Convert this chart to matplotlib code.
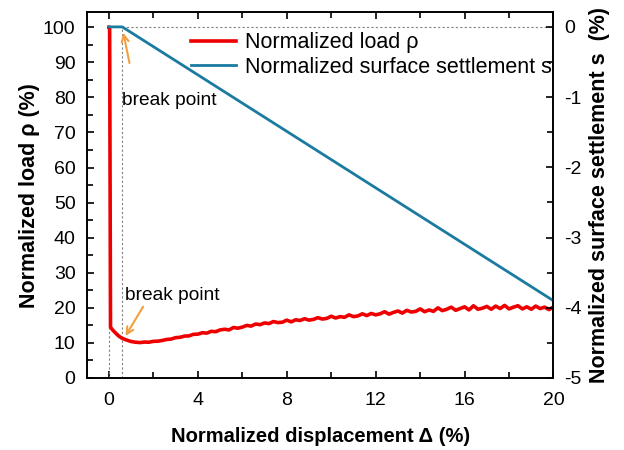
import numpy as np
import matplotlib.pyplot as plt
from matplotlib.ticker import MultipleLocator

plt.rcParams['font.family'] = ['Liberation Sans', 'DejaVu Sans']
plt.rcParams['axes.unicode_minus'] = False

# normalized load curve
load_x = [0, 0.03, 0.07, 0.15, 0.3, 0.45, 0.6, 0.8, 1.0, 1.2, 1.4,
          1.6, 1.8, 2.0, 2.2, 2.4, 2.6, 2.8, 3.0, 3.2, 3.4, 3.6, 3.8,
          4.0, 4.2, 4.4, 4.6, 4.8, 5.0, 5.2, 5.4, 5.6, 5.8,
          6.0, 6.2, 6.4, 6.6, 6.8, 7.0, 7.2, 7.4, 7.6, 7.8,
          8.0, 8.2, 8.4, 8.6, 8.8, 9.0, 9.2, 9.4, 9.6, 9.8,
          10.0, 10.2, 10.4, 10.6, 10.8, 11.0, 11.2, 11.4, 11.6, 11.8,
          12.0, 12.2, 12.4, 12.6, 12.8, 13.0, 13.2, 13.4, 13.6, 13.8,
          14.0, 14.2, 14.4, 14.6, 14.8, 15.0, 15.2, 15.4, 15.6, 15.8,
          16.0, 16.2, 16.4, 16.6, 16.8, 17.0, 17.2, 17.4, 17.6, 17.8,
          18.0, 18.2, 18.4, 18.6, 18.8, 19.0, 19.2, 19.4, 19.6, 19.8, 20.0]
load_y = [100, 100, 14.5, 13.8, 12.8, 11.9, 11.3, 10.8, 10.4, 10.2, 10.1,
          10.25, 10.2, 10.45, 10.5, 10.7, 11.0, 11.1, 11.5, 11.6, 11.95, 12.0, 12.45,
          12.5, 12.9, 12.8, 13.3, 13.2, 13.7, 13.9, 13.7, 14.4, 14.2,
          14.5, 15.0, 14.8, 15.4, 15.2, 15.7, 15.5, 16.1, 15.8, 15.9,
          16.5, 16.0, 16.6, 16.4, 16.9, 16.5, 16.7, 17.2, 16.8, 17.0,
          17.6, 17.1, 17.5, 17.3, 18.0, 17.5, 17.7, 18.3, 17.8, 18.4,
          18.0, 18.3, 18.9, 18.2, 18.7, 19.1, 18.5, 19.3, 18.8, 19.0,
          19.7, 18.9, 19.4, 19.0, 20.0, 19.2, 19.6, 20.2, 19.3, 19.8,
          20.3, 19.4, 20.6, 19.6, 19.9, 20.4, 19.6, 20.5, 19.8, 20.7,
          19.7, 20.2, 20.6, 19.7, 20.3, 19.6, 20.5, 19.8, 20.2, 19.5, 20.3]

# normalized surface settlement
sett_x = [0, 0.6, 20]
sett_y = [0, 0, -3.9]

fig = plt.figure(figsize=(6.24, 4.5), dpi=100)
ax = fig.add_axes([0.139, 0.16, 0.748, 0.813])
ax2 = ax.twinx()

# guide lines
ax.plot([0.6, 20], [100, 100], color='gray', ls=(0, (2, 2)), lw=0.8)
ax.plot([0, 0], [0, 100], color='gray', ls=(0, (2, 2)), lw=0.8)
ax.plot([0.6, 0.6], [0, 100], color='gray', ls=(0, (2, 2)), lw=0.8)

l1, = ax.plot(load_x, load_y, color='#ee0000', lw=2.6, label='Normalized load ρ')
l2, = ax2.plot(sett_x, sett_y, color='#1a7aa0', lw=2.0,
               label='Normalized surface settlement s')

ax.set_xlim(-1.0, 20)
ax.set_ylim(0, 104.3)
ax2.set_ylim(-5, 0.21)

ax.xaxis.set_major_locator(MultipleLocator(4))
ax.xaxis.set_minor_locator(MultipleLocator(2))
ax.yaxis.set_major_locator(MultipleLocator(10))
ax.yaxis.set_minor_locator(MultipleLocator(5))
ax2.yaxis.set_major_locator(MultipleLocator(1))
ax2.yaxis.set_minor_locator(MultipleLocator(0.5))

ax.tick_params(which='both', direction='in', top=True, labelsize=14, width=1.2)
ax.tick_params(which='major', length=5)
ax.tick_params(which='minor', length=4)
ax.tick_params(axis='x', pad=10)
ax.tick_params(axis='y', pad=8)
ax2.tick_params(which='both', direction='in', labelsize=14, width=1.2, pad=8)
ax2.tick_params(which='major', length=5)
ax2.tick_params(which='minor', length=4)
for a in (ax, ax2):
    for s in a.spines.values():
        s.set_linewidth(1.2)

ax.set_xlabel('Normalized displacement Δ (%)', fontsize=14.5, fontweight='bold', labelpad=13)
ax.set_ylabel('Normalized load ρ (%)', fontsize=15.5, fontweight='bold', labelpad=2)
ax2.set_ylabel('Normalized surface settlement s  (%)', fontsize=15.5, fontweight='bold', labelpad=5)

arrow = dict(arrowstyle='->,head_length=0.5,head_width=0.25', color='#f0a040', lw=1.5)
ax.annotate('', xy=(0.62, 99.2), xytext=(0.95, 89), arrowprops=arrow)
ax.text(0.58, 79, 'break point', fontsize=13.8, va='center', ha='left')
ax.annotate('', xy=(0.68, 11.3), xytext=(1.6, 21), arrowprops=arrow)
ax.text(0.72, 23.4, 'break point', fontsize=13.8, va='center', ha='left')

ax.legend(handles=[l1, l2], loc='upper left', bbox_to_anchor=(0.205, 0.968),
          frameon=False, fontsize=15.5, handlelength=2.1, handletextpad=0.4,
          borderaxespad=0, labelspacing=0.15)

fig.savefig('out.png', dpi=100)
